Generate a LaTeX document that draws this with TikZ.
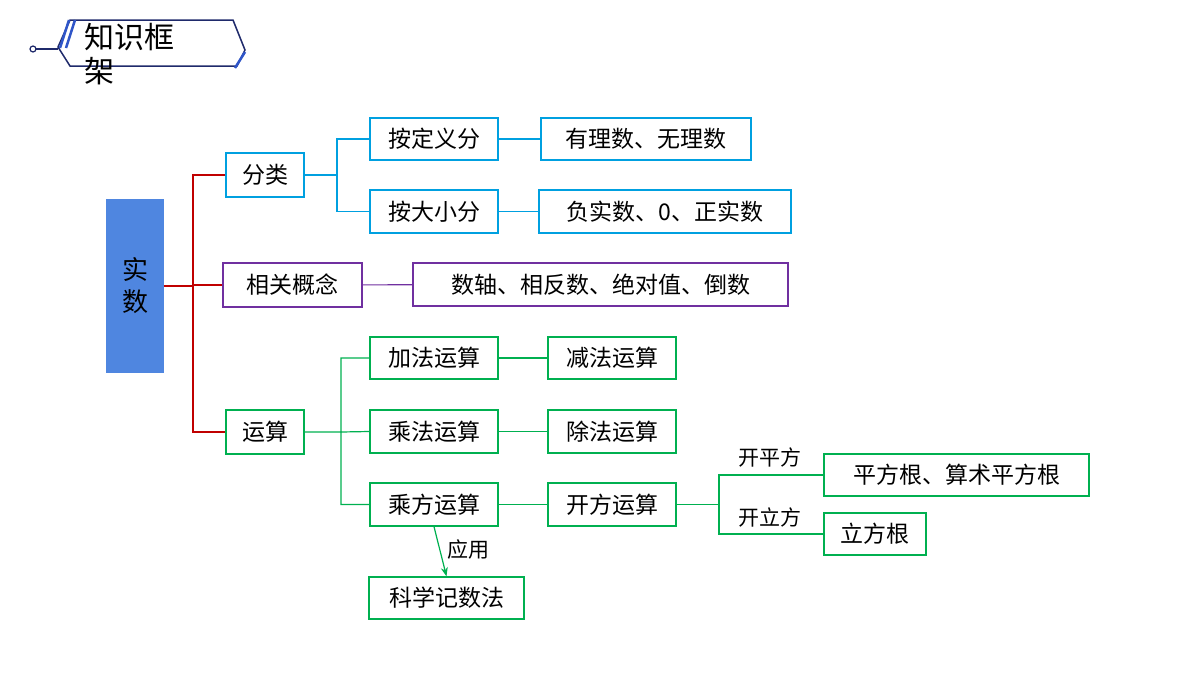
\documentclass[tikz,border=0pt]{standalone}
\usepackage{fontspec}
\setmainfont{Noto Sans CJK SC}
\usetikzlibrary{arrows.meta}
\definecolor{cred}{HTML}{C00000}
\definecolor{cblue}{HTML}{00A0E0}
\definecolor{cpur}{HTML}{7030A0}
\definecolor{cgrn}{HTML}{00B050}
\definecolor{cfill}{HTML}{4F86E0}
\definecolor{navy}{HTML}{1F2A6B}
\definecolor{tblue}{HTML}{2F55C8}
\begin{document}
\begin{tikzpicture}[x=1pt,y=-1pt,
  bx/.style={draw,line width=1.3pt,fill=white,inner sep=0pt,font=\fontsize{23}{26}\selectfont},
  lab/.style={font=\fontsize{21}{24}\selectfont,inner sep=0pt},
  ln/.style={line width=1.2pt}]
\useasboundingbox (0,0) rectangle (1200,675);
% title
\draw[navy,line width=1.5pt,fill=white] (58,47) -- (70,20) -- (233,20) -- (245,50) -- (237,66) -- (70,66) -- cycle;
\draw[tblue,line width=2.5pt] (60,48) -- (69,20) (66,48) -- (75,20);
\draw[navy,line width=1.2pt] (36,49) -- (58,49);
\draw[navy,line width=1.2pt,fill=white] (33,49) circle (3);
\draw[tblue,line width=2.5pt] (235,68) -- (245,52);
\node[anchor=north west,inner sep=0pt,align=left,font=\fontsize{30}{34}\selectfont] (title) at (84,23) {知识框\\架};
% boxes
\node[bx,draw=cfill,fill=cfill,minimum width=56,minimum height=172,align=center,font=\fontsize{26}{32}\selectfont] (ss) at (135,286) {实\\数};
\node[bx,draw=cblue,minimum width=78,minimum height=44] (fl) at (265,175) {分类};
\node[bx,draw=cpur,minimum width=139,minimum height=44] (xg) at (292.5,285) {相关概念};
\node[bx,draw=cgrn,minimum width=78,minimum height=44] (ys) at (265,432) {运算};
\node[bx,draw=cblue,minimum width=128,minimum height=42] (dy) at (434,139) {按定义分};
\node[bx,draw=cblue,minimum width=128,minimum height=43] (dx) at (434,211.5) {按大小分};
\node[bx,draw=cblue,minimum width=210,minimum height=42] (yl) at (646,139) {有理数、无理数};
\node[bx,draw=cblue,minimum width=252,minimum height=43] (fs) at (665,211.5) {负实数、0、正实数};
\node[bx,draw=cpur,minimum width=375,minimum height=43] (sz) at (600.5,284.5) {数轴、相反数、绝对值、倒数};
\node[bx,draw=cgrn,minimum width=128,minimum height=42] (jf) at (434,358) {加法运算};
\node[bx,draw=cgrn,minimum width=128,minimum height=42] (jj) at (612,358) {减法运算};
\node[bx,draw=cgrn,minimum width=128,minimum height=43] (cf) at (434,431.5) {乘法运算};
\node[bx,draw=cgrn,minimum width=128,minimum height=43] (cc) at (612,431.5) {除法运算};
\node[bx,draw=cgrn,minimum width=128,minimum height=43] (cfy) at (434,504.5) {乘方运算};
\node[bx,draw=cgrn,minimum width=128,minimum height=43] (kf) at (612,504.5) {开方运算};
\node[bx,draw=cgrn,minimum width=265,minimum height=42] (pf) at (956.5,475) {平方根、算术平方根};
\node[bx,draw=cgrn,minimum width=102,minimum height=42] (lf) at (875,534) {立方根};
\node[bx,draw=cgrn,minimum width=155,minimum height=42] (kx) at (446.5,598) {科学记数法};
\node[lab] (kpf) at (770,457) {开平方};
\node[lab] (klf) at (770,517) {开立方};
\node[lab] (yy) at (468,550) {应用};
% connectors
\draw[ln,cred] (ss.east) -- (193,286) (fl.west) -| (193,286) |- (ys.west) (193,285) -- (xg.west);
\draw[ln,cblue] (fl.east) -- (337,175) (dy.west) -| (337,175) |- (dx.west);
\draw[ln,cblue] (dy) -- (yl) (dx) -- (fs);
\draw[ln,cpur] (xg) -- (sz);
\draw[ln,cgrn] (ys.east) -- (341,432) (jf.west) -| (341,432) |- (cfy.west) (341,432) -- (cf.west);
\draw[ln,cgrn] (jf) -- (jj) (cf) -- (cc) (cfy) -- (kf);
\draw[ln,cgrn] (kf.east) -- (719,504.5) (pf.west) -| (719,504.5) |- (lf.west);
\draw[ln,cgrn,-{Stealth[length=9pt,width=7pt]}] (cfy.south) -- (kx.north);
\end{tikzpicture}
\end{document}
